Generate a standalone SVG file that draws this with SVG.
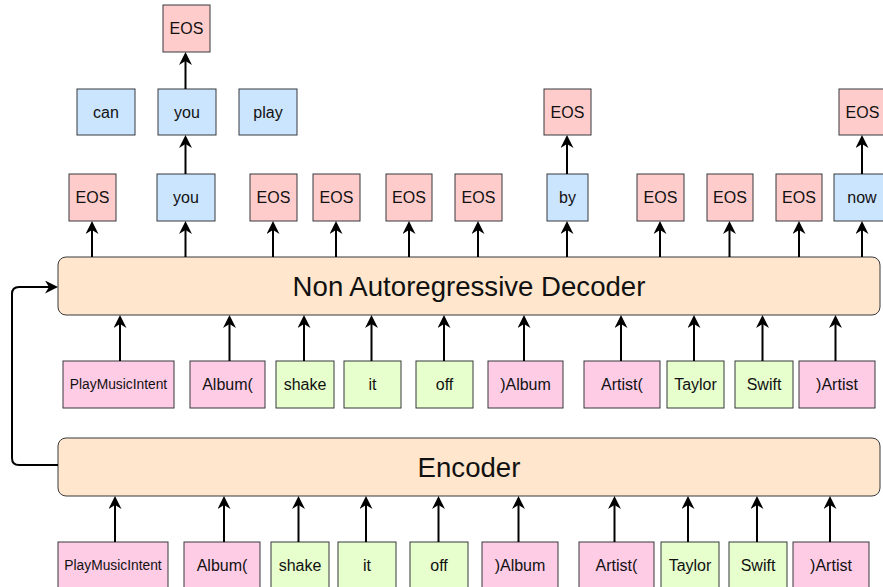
<svg xmlns="http://www.w3.org/2000/svg" width="883" height="587" viewBox="0 0 883 587">
<defs>
<marker id="ah" viewBox="0 0 13 13" refX="9" refY="6.5" markerWidth="13" markerHeight="13" markerUnits="userSpaceOnUse" orient="auto">
<path d="M0,0 L13,6.5 L0,13 L4,6.5 z" fill="#000"/>
</marker>
</defs>
<style>
rect{stroke:#36393d;stroke-width:1}
.eos{fill:#ffcccc}
.w{fill:#cce5ff}
.tag{fill:#ffcce6}
.tok{fill:#e6ffcc}
.blk{fill:#ffe6cc}
text{font-family:"Liberation Sans",Arial,sans-serif;font-size:16px;fill:#111;text-anchor:middle;dominant-baseline:central}
.sm{font-size:13.8px}
.big{font-size:27.6px}
.c line,.c path{stroke:#000;stroke-width:2;fill:none;marker-end:url(#ah)}
</style>
<g id="decoder"><rect class="blk" x="58" y="257" width="822" height="58" rx="8"/><text class="big" x="469" y="286">Non Autoregressive Decoder</text></g>
<g id="encoder"><rect class="blk" x="58" y="438" width="822" height="58" rx="8"/><text class="big" x="469" y="467">Encoder</text></g>
<g id="t1-eos"><rect class="eos" x="163" y="5" width="47" height="47"/><text x="186.5" y="28.5">EOS</text></g>
<g id="t2-can"><rect class="w" x="77" y="89" width="58" height="46"/><text x="106" y="112">can</text></g>
<g id="t2-you"><rect class="w" x="158" y="89" width="58" height="46"/><text x="187" y="112">you</text></g>
<g id="t2-play"><rect class="w" x="239" y="89" width="58" height="46"/><text x="268" y="112">play</text></g>
<g id="t2-eos1"><rect class="eos" x="544" y="89" width="47" height="46"/><text x="567.5" y="112">EOS</text></g>
<g id="t2-eos2"><rect class="eos" x="839" y="89" width="47" height="46"/><text x="862.5" y="112">EOS</text></g>
<g id="o1"><rect class="eos" x="69" y="174" width="47" height="47"/><text x="92.5" y="197.5">EOS</text></g>
<g id="o2"><rect class="w" x="157" y="174" width="58" height="47"/><text x="186" y="197.5">you</text></g>
<g id="o3"><rect class="eos" x="250" y="174" width="47" height="47"/><text x="273.5" y="197.5">EOS</text></g>
<g id="o4"><rect class="eos" x="313" y="174" width="47" height="47"/><text x="336.5" y="197.5">EOS</text></g>
<g id="o5"><rect class="eos" x="386" y="174" width="46" height="47"/><text x="409" y="197.5">EOS</text></g>
<g id="o6"><rect class="eos" x="455" y="174" width="47" height="47"/><text x="478.5" y="197.5">EOS</text></g>
<g id="o7"><rect class="w" x="547" y="174" width="41" height="47"/><text x="567.5" y="197.5">by</text></g>
<g id="o8"><rect class="eos" x="637" y="174" width="47" height="47"/><text x="660.5" y="197.5">EOS</text></g>
<g id="o9"><rect class="eos" x="707" y="174" width="46" height="47"/><text x="730" y="197.5">EOS</text></g>
<g id="o10"><rect class="eos" x="776" y="174" width="46" height="47"/><text x="799" y="197.5">EOS</text></g>
<g id="o11"><rect class="w" x="834" y="174" width="57" height="47"/><text x="862" y="197.5">now</text></g>
<g id="m1"><rect class="tag" x="63" y="361" width="111" height="47"/><text class="sm" x="118.5" y="384.5">PlayMusicIntent</text></g>
<g id="m2"><rect class="tag" x="190" y="361" width="75" height="47"/><text x="227.5" y="384.5">Album(</text></g>
<g id="m3"><rect class="tok" x="276" y="361" width="58" height="47"/><text x="305" y="384.5">shake</text></g>
<g id="m4"><rect class="tok" x="344" y="361" width="57" height="47"/><text x="372.5" y="384.5">it</text></g>
<g id="m5"><rect class="tok" x="416" y="361" width="57" height="47"/><text x="444.5" y="384.5">off</text></g>
<g id="m6"><rect class="tag" x="488" y="361" width="75" height="47"/><text x="525.5" y="384.5">)Album</text></g>
<g id="m7"><rect class="tag" x="584" y="361" width="76" height="47"/><text x="622" y="384.5">Artist(</text></g>
<g id="m8"><rect class="tok" x="667" y="361" width="57" height="47"/><text x="695.5" y="384.5">Taylor</text></g>
<g id="m9"><rect class="tok" x="735" y="361" width="58" height="47"/><text x="764" y="384.5">Swift</text></g>
<g id="m10"><rect class="tag" x="799" y="361" width="76" height="47"/><text x="837" y="384.5">)Artist</text></g>
<g id="b1"><rect class="tag" x="58" y="542" width="110" height="47"/><text class="sm" x="113" y="565.5">PlayMusicIntent</text></g>
<g id="b2"><rect class="tag" x="184" y="542" width="76" height="47"/><text x="222" y="565.5">Album(</text></g>
<g id="b3"><rect class="tok" x="271" y="542" width="58" height="47"/><text x="300" y="565.5">shake</text></g>
<g id="b4"><rect class="tok" x="338" y="542" width="58" height="47"/><text x="367" y="565.5">it</text></g>
<g id="b5"><rect class="tok" x="410" y="542" width="58" height="47"/><text x="439" y="565.5">off</text></g>
<g id="b6"><rect class="tag" x="482" y="542" width="76" height="47"/><text x="520" y="565.5">)Album</text></g>
<g id="b7"><rect class="tag" x="579" y="542" width="75" height="47"/><text x="616.5" y="565.5">Artist(</text></g>
<g id="b8"><rect class="tok" x="661" y="542" width="58" height="47"/><text x="690" y="565.5">Taylor</text></g>
<g id="b9"><rect class="tok" x="729" y="542" width="58" height="47"/><text x="758" y="565.5">Swift</text></g>
<g id="b10"><rect class="tag" x="793" y="542" width="76" height="47"/><text x="831" y="565.5">)Artist</text></g>
<g class="c" id="connectors">
<line x1="185.5" y1="89" x2="185.5" y2="56"/>
<line x1="185.5" y1="174" x2="185.5" y2="139"/>
<line x1="567" y1="174" x2="567" y2="139"/>
<line x1="862" y1="174" x2="862" y2="139"/>
<line x1="92" y1="257" x2="92" y2="225"/>
<line x1="185.5" y1="257" x2="185.5" y2="225"/>
<line x1="273" y1="257" x2="273" y2="225"/>
<line x1="336" y1="257" x2="336" y2="225"/>
<line x1="409" y1="257" x2="409" y2="225"/>
<line x1="478" y1="257" x2="478" y2="225"/>
<line x1="567" y1="257" x2="567" y2="225"/>
<line x1="660" y1="257" x2="660" y2="225"/>
<line x1="729.5" y1="257" x2="729.5" y2="225"/>
<line x1="799" y1="257" x2="799" y2="225"/>
<line x1="862" y1="257" x2="862" y2="225"/>
<line x1="120" y1="361" x2="120" y2="319"/>
<line x1="229.5" y1="361" x2="229.5" y2="319"/>
<line x1="304" y1="361" x2="304" y2="319"/>
<line x1="371.5" y1="361" x2="371.5" y2="319"/>
<line x1="444" y1="361" x2="444" y2="319"/>
<line x1="524" y1="361" x2="524" y2="319"/>
<line x1="621" y1="361" x2="621" y2="319"/>
<line x1="694" y1="361" x2="694" y2="319"/>
<line x1="762.5" y1="361" x2="762.5" y2="319"/>
<line x1="835.5" y1="361" x2="835.5" y2="319"/>
<line x1="115" y1="542" x2="115" y2="500"/>
<line x1="224" y1="542" x2="224" y2="500"/>
<line x1="298.5" y1="542" x2="298.5" y2="500"/>
<line x1="366" y1="542" x2="366" y2="500"/>
<line x1="438.5" y1="542" x2="438.5" y2="500"/>
<line x1="518.5" y1="542" x2="518.5" y2="500"/>
<line x1="614.5" y1="542" x2="614.5" y2="500"/>
<line x1="688" y1="542" x2="688" y2="500"/>
<line x1="757" y1="542" x2="757" y2="500"/>
<line x1="830" y1="542" x2="830" y2="500"/>
<path d="M58,465 L19,465 Q12,465 12,458 L12,294 Q12,287 19,287 L54,287"/>
</g>
</svg>
